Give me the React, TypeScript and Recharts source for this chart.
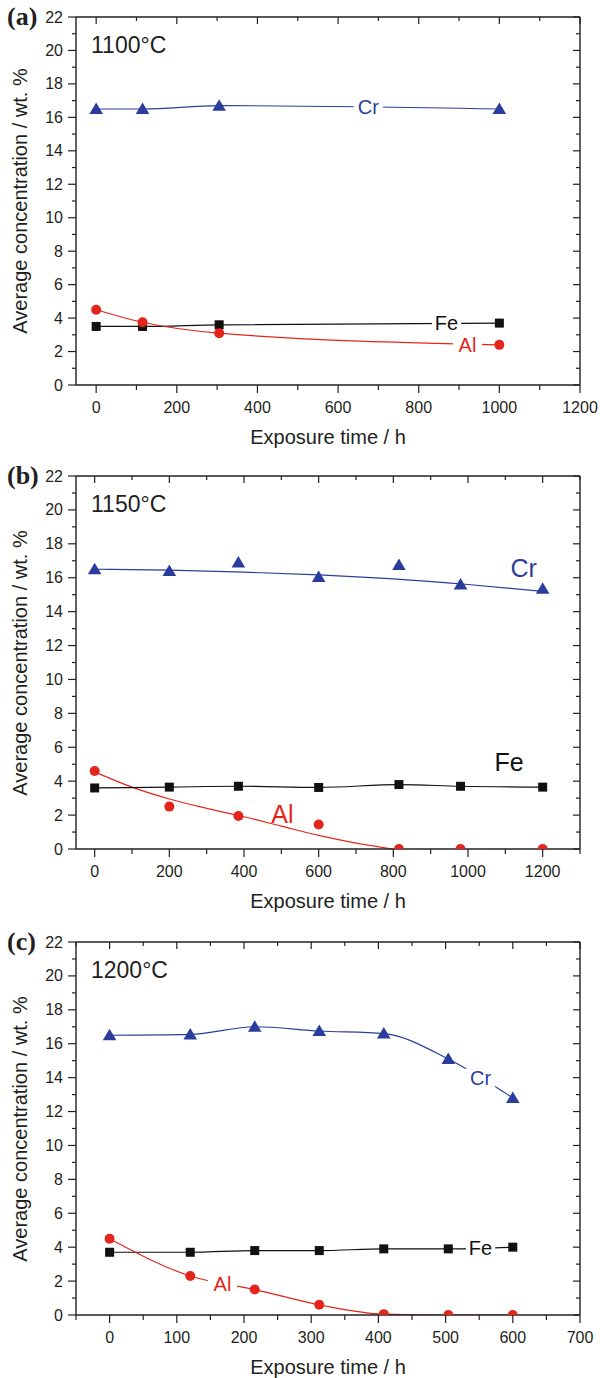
import React from "react";
import { LineChart, Line, XAxis, YAxis, ReferenceDot } from "recharts";

const FONT = '"Liberation Sans", Arial, Helvetica, sans-serif';
const SERIF = '"Liberation Serif", "Times New Roman", serif';
const INK = "#231f20";
const CR = "#2a3d9c";
const AL = "#e4251c";
const FE = "#111111";

// (a) 1100°C
const timeA = [0, 115, 305, 1000];
const crA = [16.5, 16.5, 16.7, 16.5];
const feA = [3.5, 3.5, 3.6, 3.7];
const alA = [4.5, 3.75, 3.1, 2.4];

// (b) 1150°C: measured points, plus the fitted trends drawn for Cr and Al
const timeB = [0, 200, 385, 600, 815, 980, 1200];
const crB = [16.5, 16.4, 16.9, 16.05, 16.75, 15.6, 15.35];
const feB = [3.6, 3.65, 3.7, 3.63, 3.8, 3.7, 3.65];
const alB = [4.6, 2.5, 1.95, 1.45, 0, 0, 0];
const crFitTimeB = [0, 200, 400, 600, 800, 1000, 1200];
const crFitB = [16.5, 16.45, 16.33, 16.17, 15.93, 15.6, 15.2];
const alFitTimeB = [0, 100, 200, 300, 400, 500, 600, 700, 800];
const alFitB = [4.55, 3.65, 2.95, 2.4, 1.9, 1.35, 0.8, 0.35, 0];

// (c) 1200°C
const timeC = [0, 120, 216, 312, 408, 504, 600];
const crC = [16.5, 16.55, 17.0, 16.75, 16.6, 15.1, 12.8];
const feC = [3.7, 3.7, 3.8, 3.8, 3.9, 3.9, 4.0];
const alC = [4.5, 2.3, 1.5, 0.6, 0.05, 0, 0];

// axis ticks
const yMajor = [0, 2, 4, 6, 8, 10, 12, 14, 16, 18, 20, 22];
const yMinor = [1, 3, 5, 7, 9, 11, 13, 15, 17, 19, 21];
const xMajorAB = [0, 200, 400, 600, 800, 1000, 1200];
const xMinorA = [100, 300, 500, 700, 900, 1100];
const xMinorB = [100, 300, 500, 700, 900, 1100, 1300];
const xMajorC = [0, 100, 200, 300, 400, 500, 600, 700];
const xMinorC = [-50, 50, 150, 250, 350, 450, 550, 650];

type Pt = { t: number; v: number };
const zip = (ts: number[], vs: number[]): Pt[] => ts.map((t, i) => ({ t, v: vs[i] }));
const merge = (a: number[], b: number[]) => [...a, ...b].sort((x, y) => x - y);

type Marker = "tri" | "sq" | "dot" | null;
type Series = { data: Pt[]; color: string; marker: Marker; line: boolean };
type Tag = { t: number; v: number; text: string; color: string; size: number; bg: boolean };

function marker(kind: Marker, color: string) {
  if (!kind) return false;
  return (p: any) => {
    const { cx, cy, index } = p;
    if (cx == null || cy == null) return <g key={index} />;
    if (kind === "tri")
      return <path key={index} d={`M${cx},${cy - 6.5}L${cx + 6.8},${cy + 5}L${cx - 6.8},${cy + 5}Z`} fill={color} />;
    if (kind === "sq") return <rect key={index} x={cx - 4.5} y={cy - 4.5} width={9} height={9} fill={color} />;
    return <circle key={index} cx={cx} cy={cy} r={5} fill={color} />;
  };
}

function tagShape(g: Tag) {
  return (p: any) => {
    const { cx, cy } = p;
    const w = g.text.length * g.size * 0.58 + 6;
    return (
      <g>
        {g.bg && <rect x={cx - w / 2} y={cy - g.size * 0.5} width={w} height={g.size} fill="#fff" />}
        <text x={cx} y={cy} textAnchor="middle" dominantBaseline="central" fontSize={g.size} fill={g.color} fontFamily={FONT}>
          {g.text}
        </text>
      </g>
    );
  };
}

const bottomTick = (majors: number[]) => (p: any) => {
  const { x, y, payload } = p;
  const major = majors.includes(payload.value);
  return (
    <g>
      <line x1={x} x2={x} y1={y} y2={y + (major ? 8 : 5)} stroke={INK} strokeWidth={1.2} />
      {major && (
        <text x={x} y={y + 22} textAnchor="middle" dominantBaseline="central" fontSize={16} fill={INK} fontFamily={FONT}>
          {payload.value}
        </text>
      )}
    </g>
  );
};

const topTick = (majors: number[]) => (p: any) => {
  const { x, y, payload } = p;
  const major = majors.includes(payload.value);
  return <line x1={x} x2={x} y1={y} y2={y + (major ? 7 : 4)} stroke={INK} strokeWidth={1.2} />;
};

const leftTick = (p: any) => {
  const { x, y, payload } = p;
  const major = yMajor.includes(payload.value);
  return (
    <g>
      <line x1={x} x2={x - (major ? 8 : 4)} y1={y} y2={y} stroke={INK} strokeWidth={1.2} />
      {major && (
        <text x={x - 13} y={y} textAnchor="end" dominantBaseline="central" fontSize={16} fill={INK} fontFamily={FONT}>
          {payload.value}
        </text>
      )}
    </g>
  );
};

const rightTick = (p: any) => {
  const { x, y, payload } = p;
  const major = yMajor.includes(payload.value);
  return <line x1={x} x2={x - (major ? 7 : 4)} y1={y} y2={y} stroke={INK} strokeWidth={1.2} />;
};

const axisLine = { stroke: INK, strokeWidth: 1.4 };

type PanelProps = {
  top: number;
  height: number;
  mt: number;
  mb: number;
  domain: [number, number];
  xMajor: number[];
  xMinor: number[];
  series: Series[];
  tags: Tag[];
  letter: string;
  temp: string;
};

function Panel({ top, height, mt, mb, domain, xMajor, xMinor, series, tags, letter, temp }: PanelProps) {
  const plotTop = top + mt;
  const plotBottom = top + height - mb - 60;
  const xTicks = merge(xMajor, xMinor);
  const yTicks = merge(yMajor, yMinor);
  return (
    <>
      <div style={{ position: "absolute", left: 0, top, width: 600, height }}>
        {/* mirror axes get 1px of room so they render their inward ticks */}
        <LineChart width={600} height={height} margin={{ top: mt - 1, right: 19, bottom: mb, left: 0 }}>
          <XAxis
            type="number"
            dataKey="t"
            domain={domain}
            ticks={xTicks}
            interval={0}
            allowDataOverflow
            tick={bottomTick(xMajor)}
            tickSize={0}
            tickMargin={0}
            tickLine={false}
            axisLine={axisLine}
            height={60}
          />
          <XAxis
            xAxisId="top"
            orientation="top"
            type="number"
            dataKey="t"
            domain={domain}
            ticks={xTicks}
            interval={0}
            allowDataOverflow
            tick={topTick(xMajor)}
            tickSize={0}
            tickMargin={0}
            tickLine={false}
            axisLine={axisLine}
            height={1}
          />
          <YAxis
            type="number"
            domain={[0, 22]}
            ticks={yTicks}
            interval={0}
            allowDataOverflow
            tick={leftTick}
            tickSize={0}
            tickMargin={0}
            tickLine={false}
            axisLine={axisLine}
            width={76}
          />
          <YAxis
            yAxisId="right"
            orientation="right"
            type="number"
            domain={[0, 22]}
            ticks={yTicks}
            interval={0}
            allowDataOverflow
            tick={rightTick}
            tickSize={0}
            tickMargin={0}
            tickLine={false}
            axisLine={axisLine}
            width={1}
          />
          <Line
            xAxisId="top"
            yAxisId="right"
            data={series[0].data}
            dataKey="v"
            stroke="none"
            dot={false}
            activeDot={false}
            isAnimationActive={false}
          />
          {series.map((s, i) => (
            <Line
              key={i}
              data={s.data}
              dataKey="v"
              type="monotone"
              stroke={s.line ? s.color : "none"}
              strokeWidth={1.2}
              dot={marker(s.marker, s.color)}
              activeDot={false}
              isAnimationActive={false}
            />
          ))}
          {tags.map((g, i) => (
            <ReferenceDot key={`tag${i}`} x={g.t} y={g.v} r={0} shape={tagShape(g)} />
          ))}
        </LineChart>
      </div>
      <div
        style={{
          position: "absolute", left: 7, top: plotTop, transform: "translateY(-50%)",
          fontFamily: SERIF, fontWeight: "bold", fontSize: 26, lineHeight: 1, color: INK,
        }}
      >
        {letter}
      </div>
      <div
        style={{
          position: "absolute", left: 91, top: plotTop + 28, transform: "translateY(-50%)",
          fontFamily: FONT, fontSize: 23, lineHeight: 1, color: INK,
        }}
      >
        {temp}
      </div>
      <div
        style={{
          position: "absolute", left: 20, top: (plotTop + plotBottom) / 2,
          transform: "translate(-50%, -50%) rotate(-90deg)", whiteSpace: "nowrap",
          fontFamily: FONT, fontSize: 20, lineHeight: 1, color: INK,
        }}
      >
        Average concentration / wt. %
      </div>
      <div
        style={{
          position: "absolute", left: 328, top: plotBottom + 52, transform: "translate(-50%, -50%)",
          whiteSpace: "nowrap", fontFamily: FONT, fontSize: 20, lineHeight: 1, color: INK,
        }}
      >
        Exposure time / h
      </div>
    </>
  );
}

export default function App() {
  return (
    <div style={{ position: "absolute", left: 0, top: 0, width: 600, height: 1378, background: "#fff" }}>
      <Panel
        top={0}
        height={460}
        mt={17}
        mb={15}
        domain={[-50, 1200]}
        xMajor={xMajorAB}
        xMinor={xMinorA}
        letter="(a)"
        temp="1100°C"
        series={[
          { data: zip(timeA, crA), color: CR, marker: "tri", line: true },
          { data: zip(timeA, feA), color: FE, marker: "sq", line: true },
          { data: zip(timeA, alA), color: AL, marker: "dot", line: true },
        ]}
        tags={[
          { t: 675, v: 16.6, text: "Cr", color: CR, size: 20, bg: true },
          { t: 869, v: 3.7, text: "Fe", color: FE, size: 20, bg: true },
          { t: 921, v: 2.42, text: "Al", color: AL, size: 20, bg: true },
        ]}
      />
      <Panel
        top={460}
        height={465}
        mt={16}
        mb={16}
        domain={[-50, 1300]}
        xMajor={xMajorAB}
        xMinor={xMinorB}
        letter="(b)"
        temp="1150°C"
        series={[
          { data: zip(crFitTimeB, crFitB), color: CR, marker: null, line: true },
          { data: zip(alFitTimeB, alFitB), color: AL, marker: null, line: true },
          { data: zip(timeB, crB), color: CR, marker: "tri", line: false },
          { data: zip(timeB, feB), color: FE, marker: "sq", line: true },
          { data: zip(timeB, alB), color: AL, marker: "dot", line: false },
        ]}
        tags={[
          { t: 1149, v: 16.6, text: "Cr", color: CR, size: 25, bg: false },
          { t: 1110, v: 5.15, text: "Fe", color: FE, size: 25, bg: false },
          { t: 503, v: 2.06, text: "Al", color: AL, size: 25, bg: false },
        ]}
      />
      <Panel
        top={925}
        height={453}
        mt={17}
        mb={3}
        domain={[-50, 700]}
        xMajor={xMajorC}
        xMinor={xMinorC}
        letter="(c)"
        temp="1200°C"
        series={[
          { data: zip(timeC, crC), color: CR, marker: "tri", line: true },
          { data: zip(timeC, feC), color: FE, marker: "sq", line: true },
          { data: zip(timeC, alC), color: AL, marker: "dot", line: true },
        ]}
        tags={[
          { t: 552, v: 13.95, text: "Cr", color: CR, size: 20, bg: true },
          { t: 552, v: 3.95, text: "Fe", color: FE, size: 20, bg: true },
          { t: 168, v: 1.85, text: "Al", color: AL, size: 20, bg: true },
        ]}
      />
    </div>
  );
}
